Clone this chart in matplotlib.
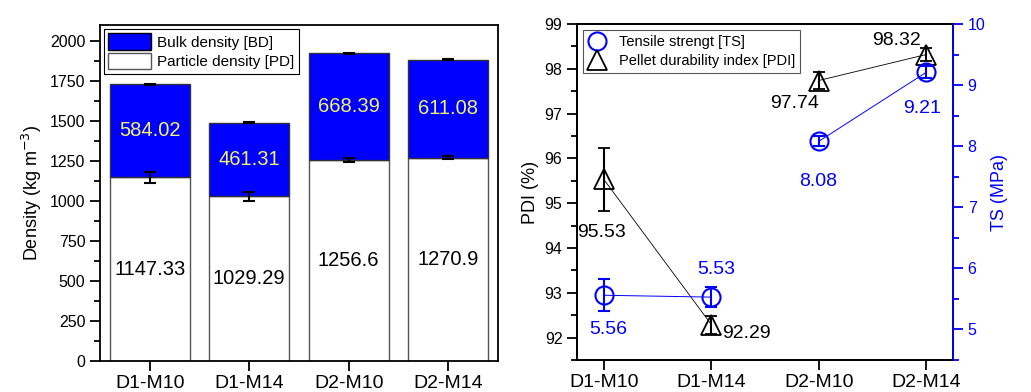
import matplotlib
matplotlib.use("Agg")
from matplotlib import pyplot as plt
from matplotlib.ticker import MultipleLocator
from matplotlib.lines import Line2D
from matplotlib.patches import Patch
import numpy as np

plt.rcParams['font.family'] = ['Liberation Sans', 'DejaVu Sans']

categories = ['D1-M10', 'D1-M14', 'D2-M10', 'D2-M14']

# densities (kg m-3)
pd_vals = [1147.33, 1029.29, 1256.6, 1270.9]
pd_err = [32, 30, 10, 9]
bd_vals = [584.02, 461.31, 668.39, 611.08]
bd_err = [3, 3, 3, 3]

# pellet quality
pdi = [95.53, 92.29, 97.74, 98.32]
pdi_err = [0.7, 0.2, 0.2, 0.15]
ts = [5.56, 5.53, 8.08, 9.21]
ts_err = [0.26, 0.17, 0.08, 0.1]

blue = '#0000ff'
x = np.arange(len(categories))

fig = plt.figure(figsize=(10.31, 3.92), dpi=100)

# ---------- left: stacked density bars ----------
ax = fig.add_axes([0.097, 0.079, 0.386, 0.857])
tops = np.array(pd_vals) + np.array(bd_vals)
ax.bar(x, pd_vals, 0.8, color='white', edgecolor='#555555', linewidth=1)
ax.bar(x, bd_vals, 0.8, bottom=pd_vals, color=blue, edgecolor='#333333', linewidth=1)
ax.errorbar(x, pd_vals, yerr=pd_err, fmt='none', ecolor='black', elinewidth=1.5, capsize=4, capthick=1.5)
ax.errorbar(x, tops, yerr=bd_err, fmt='none', ecolor='black', elinewidth=1.5, capsize=4, capthick=1.5)

for i in range(len(categories)):
    ax.text(x[i], pd_vals[i] + bd_vals[i] / 2, f'{bd_vals[i]}', ha='center', va='center',
            color='#f4f46a', fontsize=14.5)
    ax.text(x[i], pd_vals[i] / 2, f'{pd_vals[i]}', ha='center', va='center',
            color='black', fontsize=14.5)

ax.set_xlim(-0.5, 3.5)
ax.set_ylim(0, 2100)
ax.set_xticks(x)
ax.set_xticklabels(categories, fontsize=14)
ax.yaxis.set_major_locator(MultipleLocator(250))
ax.yaxis.set_minor_locator(MultipleLocator(125))
ax.tick_params(axis='y', which='major', length=7, width=1.3, labelsize=11.5, direction='out')
ax.tick_params(axis='y', which='minor', length=4, width=1.3, direction='out')
ax.tick_params(axis='x', which='major', length=7, width=1.3, direction='out', pad=3)
ax.set_ylabel('Density (kg m$^{-3}$)', fontsize=13)
for s in ax.spines.values():
    s.set_linewidth(1.3)

handles = [Patch(facecolor=blue, edgecolor='black', label='Bulk density [BD]'),
           Patch(facecolor='white', edgecolor='#555555', label='Particle density [PD]')]
leg = ax.legend(handles=handles, loc='upper left', fontsize=11, fancybox=False,
                edgecolor='black', framealpha=1, borderaxespad=0.25, handlelength=2.8,
                handleheight=1.25, handletextpad=0.4, labelspacing=0.2, borderpad=0.3)
leg.get_frame().set_linewidth(0.8)

# ---------- right: PDI and TS ----------
ax1 = fig.add_axes([0.5597, 0.0816, 0.3647, 0.857])
ax2 = ax1.twinx()

for seg in ([0, 1], [2, 3]):
    ax1.plot(x[seg], [pdi[i] for i in seg], color='black', lw=0.6, zorder=2)
    ax2.plot(x[seg], [ts[i] for i in seg], color=blue, lw=0.7, zorder=2)

ax1.errorbar(x, pdi, yerr=pdi_err, fmt='^', mfc='none', mec='black', ms=15, mew=1.3,
             ecolor='black', elinewidth=1.5, capsize=4, capthick=1.5, zorder=3)
ax2.errorbar(x, ts, yerr=ts_err, fmt='o', mfc='none', mec=blue, ms=13, mew=1.5,
             ecolor=blue, elinewidth=1.5, capsize=4, capthick=1.5, zorder=3)

pdi_offsets = [(-2, -53), (35, -9), (-24, -23), (-30, 14)]
ts_offsets = [(4, -34), (5, 28), (-1, -40), (-4, -36)]
for i in range(len(categories)):
    ax1.annotate(f'{pdi[i]}', (x[i], pdi[i]), xytext=pdi_offsets[i], textcoords='offset pixels',
                 ha='center', va='center', fontsize=14, color='black')
    ax2.annotate(f'{ts[i]}', (x[i], ts[i]), xytext=ts_offsets[i], textcoords='offset pixels',
                 ha='center', va='center', fontsize=14, color=blue)

ax1.set_xlim(-0.25, 3.25)
ax1.set_ylim(91.5, 99)
ax2.set_ylim(4.5, 10)
ax1.set_xticks(x)
ax1.set_xticklabels(categories, fontsize=14)
ax1.yaxis.set_major_locator(MultipleLocator(1))
ax1.yaxis.set_minor_locator(MultipleLocator(0.5))
ax2.yaxis.set_major_locator(MultipleLocator(1))
ax2.yaxis.set_minor_locator(MultipleLocator(0.5))
ax1.tick_params(axis='y', which='major', length=7, width=1.3, labelsize=11.5)
ax1.tick_params(axis='y', which='minor', length=4, width=1.3)
ax1.tick_params(axis='x', which='major', length=7, width=1.3, pad=3)
ax2.tick_params(axis='y', which='major', length=7, width=1.3, labelsize=11.5, colors=blue)
ax2.tick_params(axis='y', which='minor', length=4, width=1.3, colors=blue)
ax1.set_ylabel('PDI (%)', fontsize=13)
ax2.set_ylabel('TS (MPa)', fontsize=13, color=blue)
for s in ax1.spines.values():
    s.set_linewidth(1.3)
for s in ax2.spines.values():
    s.set_linewidth(1.3)
ax2.spines['right'].set_color(blue)

h2 = [Line2D([], [], marker='o', ls='none', mfc='none', mec=blue, ms=13, mew=1.5,
             label='Tensile strengt [TS]'),
      Line2D([], [], marker='^', ls='none', mfc='none', mec='black', ms=15, mew=1.3,
             label='Pellet durability index [PDI]')]
leg2 = ax2.legend(handles=h2, loc='upper left', fontsize=10.5, fancybox=False,
                  edgecolor='#555555', framealpha=1, borderaxespad=0.4, handlelength=1.2,
                  handletextpad=0.9, labelspacing=0.35, borderpad=0.35)
leg2.get_frame().set_linewidth(0.8)

fig.savefig('out.png', dpi=100)
